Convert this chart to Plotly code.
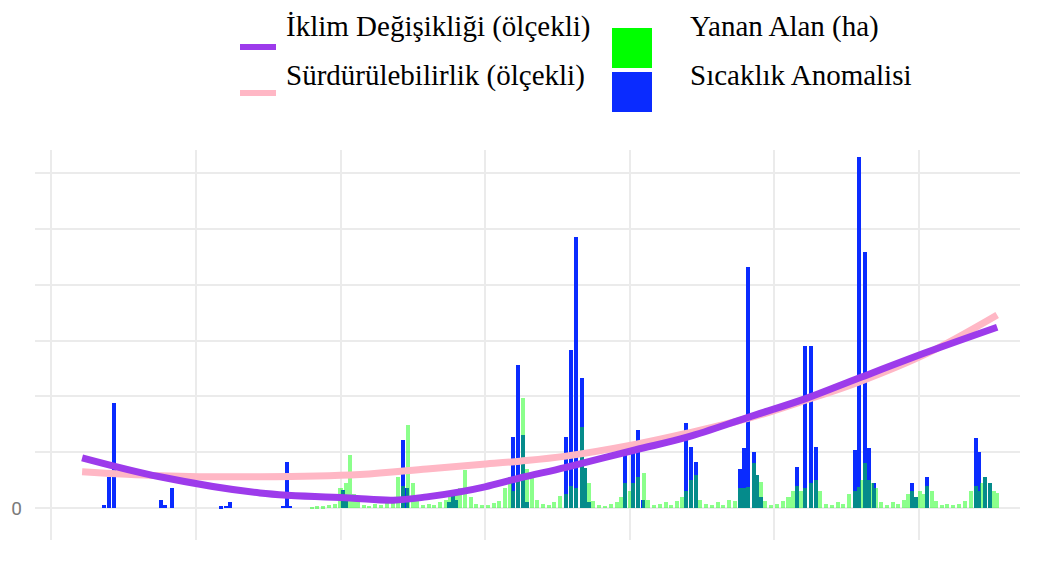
import plotly.graph_objects as go

# ---------------- data ----------------
# Sıcaklık Anomalisi (scaled) - decimal year positions and heights
sicaklik_x = [1986.82, 1986.99, 1987.16, 1988.79, 1988.93, 1989.17, 1990.87, 1991.04, 1991.18,
              1993.01, 1993.15, 1993.25, 1995.09, 1995.20, 1997.16, 1997.30, 1998.75, 1998.89,
              1999.00, 2000.97, 2001.14, 2001.31, 2001.45, 2002.80, 2002.98, 2003.15, 2003.36,
              2003.46, 2003.60, 2004.84, 2005.12, 2005.29, 2005.45, 2006.96, 2007.13, 2007.30,
              2008.82, 2008.96, 2009.10, 2009.31, 2009.41, 2009.55, 2010.80, 2011.07, 2011.28,
              2011.45, 2012.80, 2012.94, 2013.15, 2013.29, 2013.45, 2014.78, 2014.90, 2015.29,
              2016.99, 2017.09, 2017.30, 2017.47]
sicaklik_y = [0.05, 0.56, 1.88, 0.14, 0.05, 0.36, 0.03, 0.04, 0.10,
              0.04, 0.82, 0.04, 0.32, 0.15, 1.22, 0.35, 0.10, 0.22,
              0.15, 1.27, 2.56, 1.31, 0.10, 1.27, 2.83, 4.86, 2.33,
              0.72, 0.10, 1.04, 1.04, 1.40, 0.15, 1.52, 1.10, 0.83,
              0.70, 1.07, 4.32, 1.01, 0.59, 0.20, 0.74, 2.90, 2.90,
              1.10, 1.04, 6.29, 4.59, 1.07, 0.45, 0.45, 0.20, 0.56,
              1.25, 1.01, 0.56, 0.45]

# Yanan Alan (ha) (scaled)
yanan_x = [1994.00, 1994.20, 1994.40, 1994.60, 1994.80, 1995.00, 1995.09, 1995.20, 1995.33, 1995.45,
           1995.60, 1995.80, 1996.00, 1996.20, 1996.40, 1996.60, 1996.80, 1997.00, 1997.16, 1997.34,
           1997.50, 1997.65, 1997.85, 1998.05, 1998.25, 1998.45, 1998.65, 1998.80, 1998.89, 1999.00,
           1999.15, 1999.31, 1999.50, 1999.70, 1999.90, 2000.10, 2000.30, 2000.50, 2000.70, 2000.85,
           2000.97, 2001.14, 2001.31, 2001.45, 2001.63, 2001.80, 2002.00, 2002.20, 2002.40, 2002.60,
           2002.80, 2002.98, 2003.15, 2003.36, 2003.46, 2003.60, 2003.75, 2003.95, 2004.15, 2004.35,
           2004.55, 2004.70, 2004.84, 2005.00, 2005.12, 2005.29, 2005.50, 2005.65, 2005.85, 2006.05,
           2006.25, 2006.45, 2006.65, 2006.80, 2006.96, 2007.13, 2007.30, 2007.45, 2007.65, 2007.85,
           2008.05, 2008.25, 2008.45, 2008.65, 2008.82, 2008.96, 2009.10, 2009.31, 2009.41, 2009.55,
           2009.70, 2009.90, 2010.10, 2010.30, 2010.50, 2010.65, 2010.80, 2010.95, 2011.07, 2011.28,
           2011.45, 2011.60, 2011.80, 2012.00, 2012.20, 2012.40, 2012.60, 2012.80, 2012.94, 2013.05,
           2013.15, 2013.29, 2013.40, 2013.52, 2013.70, 2013.90, 2014.10, 2014.30, 2014.50, 2014.65,
           2014.78, 2014.90, 2015.05, 2015.20, 2015.29, 2015.45, 2015.60, 2015.80, 2016.00, 2016.20,
           2016.40, 2016.60, 2016.80, 2016.99, 2017.09, 2017.20, 2017.30, 2017.47, 2017.60, 2017.72]
yanan_y = [0.02, 0.03, 0.03, 0.05, 0.08, 0.35, 0.30, 0.45, 0.95, 0.25,
           0.10, 0.06, 0.04, 0.07, 0.05, 0.09, 0.12, 0.55, 0.40, 1.49,
           0.45, 0.15, 0.06, 0.08, 0.05, 0.10, 0.14, 0.25, 0.22, 0.30,
           0.35, 0.68, 0.20, 0.08, 0.05, 0.06, 0.09, 0.12, 0.35, 0.55,
           0.30, 0.60, 1.97, 0.70, 0.56, 0.15, 0.08, 0.05, 0.10, 0.22,
           0.25, 0.40, 0.35, 1.45, 0.72, 0.45, 0.12, 0.06, 0.04, 0.08,
           0.10, 0.20, 0.45, 0.30, 0.45, 0.55, 0.63, 0.15, 0.05, 0.07,
           0.10, 0.06, 0.12, 0.20, 0.30, 0.50, 0.60, 0.15, 0.07, 0.05,
           0.10, 0.06, 0.15, 0.12, 0.35, 0.36, 0.38, 0.80, 0.59, 0.47,
           0.12, 0.06, 0.08, 0.12, 0.20, 0.30, 0.40, 0.30, 0.35, 0.45,
           0.50, 0.30, 0.08, 0.06, 0.10, 0.08, 0.25, 0.30, 0.38, 0.50,
           0.80, 0.50, 0.45, 0.35, 0.10, 0.06, 0.10, 0.08, 0.15, 0.25,
           0.30, 0.20, 0.30, 0.25, 0.40, 0.30, 0.12, 0.06, 0.08, 0.05,
           0.07, 0.12, 0.30, 0.40, 0.30, 0.45, 0.56, 0.45, 0.30, 0.27]

# Smoothed trend lines (scaled)
iklim_x = [1986.06, 1988.75, 1992.21, 1995.33, 1996.82, 1997.99, 1999.13, 2000.00, 2001.21,
           2002.80, 2005.19, 2006.99, 2009.13, 2011.14, 2012.94, 2015.33, 2017.72]
iklim_y = [0.90, 0.56, 0.27, 0.18, 0.14, 0.20, 0.29, 0.38, 0.54,
           0.73, 1.04, 1.27, 1.63, 1.97, 2.33, 2.80, 3.24]
surdur_x = [1986.06, 1988.75, 1992.21, 1995.67, 1997.99, 1999.82, 2001.21, 2002.80, 2005.19,
            2006.99, 2009.13, 2011.14, 2012.94, 2015.33, 2017.72]
surdur_y = [0.65, 0.58, 0.56, 0.60, 0.70, 0.78, 0.84, 0.93, 1.14,
            1.34, 1.61, 1.94, 2.26, 2.78, 3.46]

y_ticks = [0, 1, 2, 3, 4, 5, 6]
y_ticktext = ["0", "", "", "", "", "", ""]
x_ticks = [1985, 1990, 1995, 2000, 2005, 2010, 2015]
x_ticktext = ["", "", "", "", "", "", ""]

# ---------------- layout geometry ----------------
# the page adds an 8px body margin, so figure coords = page coords - 8
OFF = 8
W, H = 1040, 562
ML, MR, MT, MB = 35 - OFF, 20 + OFF, 150 - OFF, 22 + OFF
PW, PH = W - ML - MR, H - MT - MB


def px(xp):
    return (xp - OFF - ML) / PW


def py(yp):
    return (H - MB - (yp - OFF)) / PH


PURPLE = "#9D3BEB"
PINK = "#FFB7C5"
BLUE = "#0A2BFF"
GREEN = "#00FF00"

fig = go.Figure()
fig.add_trace(go.Bar(x=sicaklik_x, y=sicaklik_y, name="Sıcaklık Anomalisi",
                     marker=dict(color=BLUE, line=dict(width=0)), width=0.14,
                     showlegend=False))
fig.add_trace(go.Bar(x=yanan_x, y=yanan_y, name="Yanan Alan (ha)",
                     marker=dict(color=GREEN, line=dict(width=0)), width=0.14,
                     opacity=0.45, showlegend=False))
fig.add_trace(go.Scatter(x=surdur_x, y=surdur_y, mode="lines", name="Sürdürülebilirlik (ölçekli)",
                         line=dict(color=PINK, width=7, shape="spline", smoothing=1.0),
                         showlegend=False))
fig.add_trace(go.Scatter(x=iklim_x, y=iklim_y, mode="lines", name="İklim Değişikliği (ölçekli)",
                         line=dict(color=PURPLE, width=7, shape="spline", smoothing=1.0),
                         showlegend=False))

# manual legend (large swatches as in reference)
shapes = [
    dict(type="line", xref="paper", yref="paper", x0=px(240), x1=px(276), y0=py(47), y1=py(47),
         line=dict(color=PURPLE, width=6)),
    dict(type="line", xref="paper", yref="paper", x0=px(240), x1=px(276), y0=py(93), y1=py(93),
         line=dict(color=PINK, width=6)),
    dict(type="rect", xref="paper", yref="paper", x0=px(612), x1=px(652), y0=py(68), y1=py(28),
         fillcolor=GREEN, line=dict(width=0)),
    dict(type="rect", xref="paper", yref="paper", x0=px(612), x1=px(652), y0=py(112), y1=py(72),
         fillcolor=BLUE, line=dict(width=0)),
]
legend_font = dict(family="Liberation Serif, Times New Roman, serif", size=29, color="#000000")
annotations = [
    dict(text="İklim Değişikliği (ölçekli)", x=px(285), y=py(OFF + 1), xref="paper", yref="paper",
         xanchor="left", yanchor="top", showarrow=False, font=legend_font, borderpad=0),
    dict(text="Sürdürülebilirlik (ölçekli)", x=px(285), y=py(75), xref="paper", yref="paper",
         xanchor="left", yanchor="middle", showarrow=False, font=legend_font, borderpad=0),
    dict(text="Yanan Alan (ha)", x=px(689), y=py(OFF + 1), xref="paper", yref="paper",
         xanchor="left", yanchor="top", showarrow=False, font=legend_font, borderpad=0),
    dict(text="Sıcaklık Anomalisi", x=px(689), y=py(75), xref="paper", yref="paper",
         xanchor="left", yanchor="middle", showarrow=False, font=legend_font, borderpad=0),
]

fig.update_layout(
    width=W, height=H,
    margin=dict(l=ML, r=MR, t=MT, b=MB, autoexpand=False),
    paper_bgcolor="white", plot_bgcolor="white",
    barmode="overlay", bargap=0,
    showlegend=False,
    shapes=shapes, annotations=annotations,
    xaxis=dict(range=[1984.43, 2018.51], tickmode="array", tickvals=x_ticks, ticktext=x_ticktext,
               showgrid=True, gridcolor="#EBEBEB", gridwidth=1.5, zeroline=False, showline=False,
               ticks="", automargin=False),
    yaxis=dict(range=[-0.573, 6.416], tickmode="array", tickvals=y_ticks, ticktext=y_ticktext,
               showgrid=True, gridcolor="#EBEBEB", gridwidth=1.5, zeroline=False, showline=False,
               ticks="", ticklabelstandoff=12, automargin=False,
               tickfont=dict(family="Roboto, Open Sans, sans-serif", size=19, color="#7A7A7A")),
)

fig.write_html("out.html")
